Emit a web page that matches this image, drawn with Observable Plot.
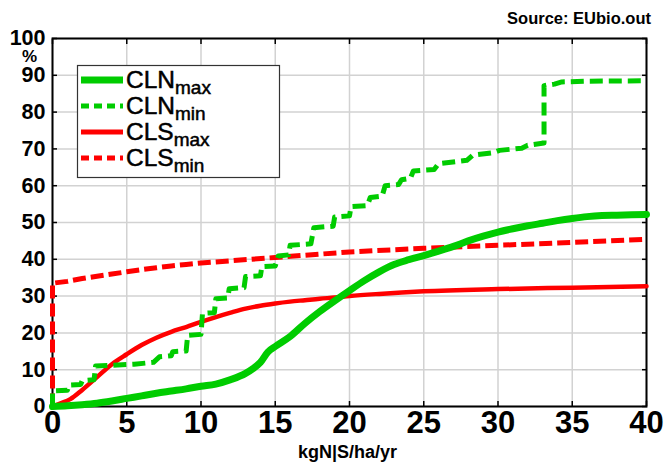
<!DOCTYPE html>
<html><head><meta charset="utf-8">
<script src="https://cdn.jsdelivr.net/npm/d3@7"></script>
<script src="https://cdn.jsdelivr.net/npm/@observablehq/plot@0.6"></script>
<style>
body{margin:0;background:#fff;font-family:"Liberation Sans",Arial,sans-serif;}
#wrap{position:relative;width:667px;height:463px;overflow:hidden;}
#source{height:28px;line-height:36px;text-align:right;padding-right:16px;font-weight:bold;font-size:16.5px;color:#000;}
#xlabel{height:20px;line-height:18px;text-align:center;width:667px;padding-left:28px;box-sizing:border-box;font-weight:bold;font-size:18px;color:#000;}
#pct{position:absolute;left:22px;top:48.5px;font-weight:bold;font-size:17px;line-height:15.5px;}
#legend{position:absolute;left:0;top:0;pointer-events:none;}
</style>
</head><body>
<div id="wrap">
<div id="source">Source: EUbio.out</div>
<div id="chart"></div>
<div id="xlabel">kgN|S/ha/yr</div>
<div id="pct">%</div>
<svg id="legend" width="667" height="463"></svg>
</div>
<script>
// tick values
const xTicks = [0,5,10,15,20,25,30,35,40];
const yTicks = [0,10,20,30,40,50,60,70,80,90,100];

// series names
const seriesNames = ["CLN", "CLN", "CLS", "CLS"];
const seriesSubs = ["max", "min", "max", "min"];

// CLN max (solid green)
const clnMaxX = [0,1,2,3,4,5,6,7,8,9,10,11,12,13,13.5,14,14.5,15,16,17,18,19,20,21,22,23,24,25,26,27,28,29,30,31,32,33,34,35,36,37,38,40];
const clnMaxY = [0,0.2,0.5,0.9,1.5,2.2,2.9,3.6,4.2,4.8,5.5,6.1,7.3,9,10.3,12,14.8,16.3,19,22.6,25.8,28.7,31.5,34.2,36.6,38.6,39.9,41,42.2,43.5,45,46.3,47.4,48.3,49.1,49.8,50.5,51.1,51.6,51.9,52.0,52.2];

// CLN min (dashed green, stepped)
const clnMinX = [0,0,1.0,1.1,1.9,2.0,2.8,2.9,5.5,6.8,7.2,8.0,8.1,9.0,9.1,10.0,10.1,10.9,11.0,11.8,11.9,12.9,13.0,14.0,14.1,15.0,15.2,15.9,16.0,17.4,17.6,18.9,19.0,20.0,20.1,21.2,21.4,22.2,22.4,23.3,23.5,24.1,24.3,25.7,26.0,27.9,28.3,29.7,30.1,31.6,32.0,33.1,33.1,33.8,34.3,36,40];
const clnMinY = [0,4.2,4.4,5.8,6.0,7.0,7.3,11.0,11.5,12.0,13.5,13.8,14.9,15.1,19.3,19.6,25.3,25.5,29.3,29.5,32.0,32.3,35.3,35.5,38.0,38.2,40.9,41.2,43.8,44.2,48.6,49.0,51.5,51.8,54.3,54.6,56.8,57.2,60.0,60.3,61.6,62.0,64.0,64.4,66.0,66.9,68.3,69.0,69.6,70.2,71.0,71.6,87.2,87.6,88.2,88.4,88.5];

// CLS max (solid red)
const clsMaxX = [0,0.5,1.2,2,3,4,5,6,7,8,9,10,11,12,13,14,15,16,17,18,19,20,22,25,30,35,40];
const clsMaxY = [0,0.8,2,4.5,8,11.5,14.2,16.7,18.7,20.3,21.6,23,24.3,25.5,26.6,27.4,28,28.5,28.9,29.3,29.6,30,30.6,31.3,31.9,32.3,32.7];

// CLS min (dashed red)
const clsMinX = [0,0,1,2,3,4,5,6,7,8,9,10,12,15,18,20,25,30,35,40];
const clsMinY = [0,33.5,34,34.8,35.4,36,36.6,37.2,37.7,38.2,38.6,39,39.6,40.5,41.4,42,43,43.8,44.6,45.4];

const GREEN = "#00cc00", RED = "#ff0000";
const colors = [GREEN, GREEN, RED, RED];
const widths = [7, 5, 4.5, 5];
const dashes = [null, "13,6", null, "13,5"];
const legendDashes = [null, "8,5", null, "8,5"];

const toRows = (xs, ys) => xs.map((x, i) => ({x, y: ys[i]}));
const series = [toRows(clnMaxX, clnMaxY), toRows(clnMinX, clnMinY), toRows(clsMaxX, clsMaxY), toRows(clsMinX, clsMinY)];
const curves = ["monotone-x", "linear", "monotone-x", "linear"];

const lineMark = i => Plot.line(series[i], {x: "x", y: "y", stroke: colors[i], strokeWidth: widths[i],
  strokeDasharray: dashes[i] || undefined, curve: curves[i], strokeLinejoin: "round", strokeLinecap: dashes[i] ? "butt" : "round"});

const grid = {stroke: "#d2d2d2", strokeOpacity: 1, strokeWidth: 1.5};
const chart = Plot.plot({
  width: 667, height: 415,
  marginLeft: 52, marginRight: 21, marginTop: 10, marginBottom: 37,
  x: {domain: [0, 40]},
  y: {domain: [0, 100]},
  style: {fontFamily: "Liberation Sans, Arial, sans-serif", background: "white", color: "black", overflow: "visible"},
  marks: [
    Plot.gridX(xTicks, grid),
    Plot.gridY(yTicks, grid),
    Plot.frame({stroke: "black", strokeWidth: 2}),
    Plot.axisX(xTicks, {anchor: "bottom", tickSize: 0, tickPadding: 4, fontSize: 31, fontWeight: "bold", label: null}),
    Plot.axisX(xTicks, {anchor: "bottom", tickSize: -5, strokeWidth: 1.5, tickFormat: () => "", label: null}),
    Plot.axisX(xTicks, {anchor: "top", tickSize: -5, strokeWidth: 1.5, tickFormat: () => "", label: null}),
    Plot.axisY(yTicks, {anchor: "left", tickSize: 0, tickPadding: 7, fontSize: 21.5, fontWeight: "bold", label: null}),
    Plot.axisY(yTicks, {anchor: "left", tickSize: -5, strokeWidth: 1.5, tickFormat: () => "", label: null}),
    Plot.axisY(yTicks, {anchor: "right", tickSize: -5, strokeWidth: 1.5, tickFormat: () => "", label: null}),
    lineMark(3), lineMark(2), lineMark(1), lineMark(0)
  ]
});
document.getElementById("chart").appendChild(chart);

// legend overlay
const lg = d3.select("#legend");
lg.append("rect").attr("x", 77.5).attr("y", 65.5).attr("width", 202).attr("height", 112)
  .attr("fill", "white").attr("stroke", "#333").attr("stroke-width", 1.2);
const rowY = [80, 106, 132, 158];
seriesNames.forEach((name, i) => {
  lg.append("line").attr("x1", 81).attr("x2", 123).attr("y1", rowY[i]).attr("y2", rowY[i])
    .attr("stroke", colors[i]).attr("stroke-width", i === 0 ? 7 : 5)
    .attr("stroke-dasharray", legendDashes[i]);
  const t = lg.append("text").attr("x", 126).attr("y", rowY[i] + 8)
    .attr("font-family", "Liberation Sans, Arial, sans-serif").attr("font-size", 24.5).attr("fill", "black")
    .attr("stroke", "black").attr("stroke-width", 0.5);
  t.append("tspan").text(name);
  t.append("tspan").attr("font-size", 19).attr("dy", 6).text(seriesSubs[i]);
});
</script>
</body></html>
